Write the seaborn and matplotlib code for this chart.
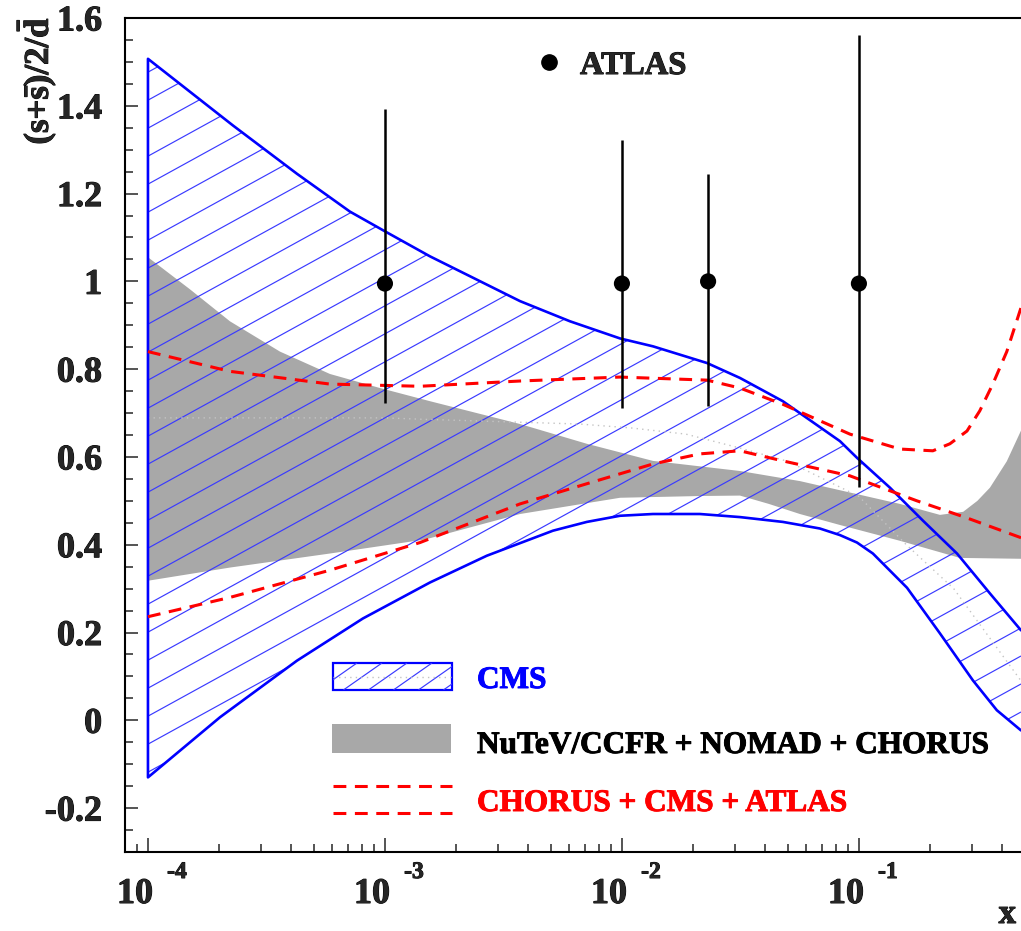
import numpy as np
import pandas as pd
import matplotlib
matplotlib.use("Agg")
import matplotlib.pyplot as plt
import matplotlib.transforms as mtransforms
import matplotlib.patheffects as pe
from matplotlib.patches import Polygon, Rectangle
from matplotlib.collections import LineCollection
from matplotlib.lines import Line2D
from matplotlib.ticker import MultipleLocator, LogLocator, NullFormatter
import seaborn as sns

sns.set_style("ticks")
plt.rcParams["font.family"] = ["Liberation Serif", "DejaVu Serif"]
plt.rcParams["font.weight"] = "bold"
plt.rcParams["mathtext.fontset"] = "custom"
plt.rcParams["mathtext.rm"] = "Liberation Serif:bold"
plt.rcParams["mathtext.it"] = "Liberation Serif:bold"
plt.rcParams["mathtext.bf"] = "Liberation Serif:bold"

# ---------------- data (x given as log10 x) ----------------
cms_upper_logx = [-4.000, -3.641, -3.371, -3.148, -3.000, -2.810, -2.430, -2.219,
                  -2.008, -1.869, -1.641, -1.502, -1.321, -1.080, -1.008, -0.869,
                  -0.730, -0.586, -0.447, -0.316]
cms_upper = [1.507, 1.355, 1.245, 1.159, 1.114, 1.057, 0.955, 0.909,
             0.870, 0.852, 0.814, 0.780, 0.727, 0.636, 0.598, 0.530,
             0.455, 0.380, 0.289, 0.205]

cms_lower_logx = [-4.000, -3.696, -3.371, -3.093, -2.810, -2.570, -2.291, -2.148,
                  -2.008, -1.869, -1.671, -1.502, -1.321, -1.165, -1.080, -1.008,
                  -0.941, -0.797, -0.658, -0.519, -0.418, -0.316]
cms_lower = [-0.130, 0.007, 0.136, 0.232, 0.314, 0.375, 0.432, 0.452,
             0.466, 0.470, 0.470, 0.463, 0.452, 0.437, 0.422, 0.405,
             0.380, 0.302, 0.198, 0.091, 0.023, -0.023]

cms_central_logx = [-4.0, -3.0, -2.85, -2.18, -1.96, -1.73, -1.5, -1.3, -1.0, -0.8, -0.6, -0.316]
cms_central = [0.689, 0.689, 0.686, 0.675, 0.666, 0.652, 0.62, 0.59, 0.51, 0.40, 0.30, 0.09]

nutev_upper_logx = [-4.000, -3.823, -3.654, -3.443, -3.232, -3.021, -2.810, -2.430,
                    -2.148, -1.869, -1.502, -1.249, -0.827, -0.658, -0.560, -0.500,
                    -0.447, -0.376, -0.316]
nutev_upper = [1.055, 0.982, 0.909, 0.840, 0.789, 0.757, 0.727, 0.675,
               0.630, 0.591, 0.568, 0.545, 0.493, 0.468, 0.475, 0.500,
               0.530, 0.590, 0.660]

nutev_lower_logx = [-4.000, -3.654, -3.232, -2.830, -2.430, -2.008, -1.671, -1.502,
                    -1.380, -1.249, -1.080, -0.827, -0.574, -0.316]
nutev_lower = [0.318, 0.348, 0.380, 0.412, 0.470, 0.507, 0.511, 0.512,
               0.493, 0.470, 0.445, 0.409, 0.370, 0.368]

fit_upper_logx = [-4.000, -3.654, -3.232, -2.852, -2.430, -2.008, -1.641, -1.502,
                  -1.321, -1.038, -0.827, -0.688, -0.616, -0.544, -0.490, -0.435,
                  -0.376, -0.316]
fit_upper = [0.840, 0.795, 0.766, 0.761, 0.773, 0.782, 0.775, 0.757,
             0.720, 0.652, 0.618, 0.614, 0.630, 0.659, 0.705, 0.766,
             0.840, 0.940]

fit_lower_logx = [-4.000, -3.654, -3.232, -2.852, -2.430, -2.148, -1.869, -1.671,
                  -1.502, -1.321, -1.038, -0.755, -0.544, -0.316]
fit_lower = [0.236, 0.280, 0.342, 0.405, 0.493, 0.539, 0.584, 0.607,
             0.614, 0.591, 0.557, 0.500, 0.461, 0.416]

atlas_x = [1e-3, 1e-2, 0.0231, 0.1]
atlas_y = [0.995, 0.995, 1.000, 0.995]
atlas_low = [0.723, 0.711, 0.716, 0.532]
atlas_high = [1.393, 1.323, 1.245, 1.561]

xtick_values = [1e-4, 1e-3, 1e-2, 1e-1]
xtick_exponents = ["-4", "-3", "-2", "-1"]
ytick_values = [-0.2, 0.0, 0.2, 0.4, 0.6, 0.8, 1.0, 1.2, 1.4, 1.6]
ytick_labels = ["-0.2", "0", "0.2", "0.4", "0.6", "0.8", "1", "1.2", "1.4", "1.6"]

legend_labels = ["CMS", "NuTeV/CCFR + NOMAD + CHORUS", "CHORUS + CMS + ATLAS"]

# ---------------- figure ----------------
W, H = 1021, 931
fig = plt.figure(figsize=(W / 100, H / 100), dpi=100)
fig.patch.set_facecolor("white")
ax_l, ax_r, ax_t, ax_b = 125, 1021, 18, 852
ax = fig.add_axes([ax_l / W, 1 - ax_b / H, (ax_r - ax_l) / W, (ax_b - ax_t) / H])
ax.set_facecolor("white")
ax.set_xscale("log")
ax.set_xlim(8e-5, 10 ** -0.316)
ax.set_ylim(-0.3, 1.6)

BLUE = "#0000ff"
HATCH = "#3a3aff"
GREY = "#a8a8a8"
RED = "#ff0000"


def heavy(color):
    return [pe.withStroke(linewidth=0.7, foreground=color)]


def tx(logx):
    return np.power(10.0, np.asarray(logx))


# NuTeV/CCFR + NOMAD + CHORUS band
gx = np.r_[tx(nutev_upper_logx), tx(nutev_lower_logx)[::-1]]
gy = np.r_[nutev_upper, nutev_lower[::-1]]
ax.fill(gx, gy, color=GREY, lw=0, zorder=1)

# CMS band: hatched region clipped to the band outline
cx = np.r_[tx(cms_upper_logx), tx(cms_lower_logx)[::-1]]
cy = np.r_[cms_upper, cms_lower[::-1]]
cms_poly = Polygon(np.column_stack([cx, cy]), closed=True, fill=False,
                   edgecolor="none", transform=ax.transData)
ax.add_patch(cms_poly)

axw, axh = ax_r - ax_l, ax_b - ax_t
slope = 0.55 * axw / axh
step = 28.0 / axh
segs = [[(0, c), (1, c + slope)] for c in np.arange(-slope - step, 1 + step, step)]
hatch = LineCollection(segs, colors=HATCH, linewidths=0.85, transform=ax.transAxes, zorder=2)
ax.add_collection(hatch)
hatch.set_clip_path(cms_poly)

df_central = pd.DataFrame({"x": tx(cms_central_logx), "y": cms_central})
sns.lineplot(data=df_central, x="x", y="y", ax=ax, color="#c4c4c4", lw=1.0,
             linestyle=(0, (1, 3)), sort=False, estimator=None, zorder=2.5)

# CMS outline (lower edge back to the left, up the left side, along the upper edge)
df_cms = pd.DataFrame({
    "x": np.r_[tx(cms_lower_logx)[::-1], tx(cms_upper_logx)],
    "y": np.r_[cms_lower[::-1], cms_upper],
})
sns.lineplot(data=df_cms, x="x", y="y", ax=ax, color=BLUE, lw=1.9,
             sort=False, estimator=None, zorder=3)

# CHORUS + CMS + ATLAS band edges
dash = (0, (4.2, 2.8))
for lx, ly in [(fit_upper_logx, fit_upper), (fit_lower_logx, fit_lower)]:
    d = pd.DataFrame({"x": tx(lx), "y": ly})
    sns.lineplot(data=d, x="x", y="y", ax=ax, color=RED, lw=2.2, linestyle=dash,
                 sort=False, estimator=None, zorder=4)

# ATLAS points
ya = np.array(atlas_y)
yerr = np.vstack([ya - np.array(atlas_low), np.array(atlas_high) - ya])
ax.errorbar(atlas_x, atlas_y, yerr=yerr, fmt="none", ecolor="black", elinewidth=1.8,
            capsize=0, zorder=5)
sns.scatterplot(x=atlas_x, y=atlas_y, ax=ax, color="black", s=135, edgecolor="none",
                zorder=6)

# ---------------- axes styling ----------------
for side in ["left", "bottom", "top"]:
    ax.spines[side].set_linewidth(1.5)
    ax.spines[side].set_color("black")
ax.spines["right"].set_visible(False)

ax.set_yticks(ytick_values)
ax.set_yticklabels(ytick_labels)
ax.yaxis.set_minor_locator(MultipleLocator(0.05))
ax.set_xticks(xtick_values)
ax.set_xticklabels([""] * len(xtick_values))
ax.xaxis.set_minor_locator(LogLocator(base=10, subs=np.arange(2, 10), numticks=20))
ax.xaxis.set_minor_formatter(NullFormatter())

ax.tick_params(axis="y", which="major", direction="in", length=9.4, width=1.1,
               labelsize=26, pad=16.5, left=True, right=False)
ax.tick_params(axis="y", which="minor", direction="in", length=5.8, width=1.1,
               left=True, right=False)
ax.tick_params(axis="x", which="major", direction="in", length=10, width=1.1,
               bottom=True, top=False)
ax.tick_params(axis="x", which="minor", direction="in", length=5.8, width=1.1,
               bottom=True, top=False)
for lab in ax.get_yticklabels():
    lab.set_fontweight("bold")
    lab.set_path_effects(heavy("black"))
ax.set_xlabel("")
ax.set_ylabel("")

# x tick labels as "10" with a raised exponent
blend = mtransforms.blended_transform_factory(ax.transData, ax.transAxes)
for xv, ex in zip(xtick_values, xtick_exponents):
    t1 = mtransforms.offset_copy(blend, fig=fig, x=-13, y=-51, units="dots")
    ax.text(xv, 0, "10", transform=t1, ha="center", va="baseline",
            fontsize=26, fontweight="bold", clip_on=False, path_effects=heavy("black"))
    t2 = mtransforms.offset_copy(blend, fig=fig, x=29, y=-26, units="dots")
    ax.text(xv, 0, ex, transform=t2, ha="center", va="baseline",
            fontsize=17, fontweight="bold", clip_on=False, path_effects=heavy("black"))

fig.text(1016 / W, 1 - 923 / H, "x", ha="right", va="baseline", fontsize=25,
         fontweight="bold", path_effects=heavy("black"))
fig.text(36 / W, 1 - 17 / H, r"$\mathbf{(s{+}\bar{s})/2/\bar{d}}$", rotation=90,
         ha="center", va="top", fontsize=25, path_effects=heavy("black"))

# ---------------- legends ----------------
def axc(px, py):
    return (px - ax_l) / axw, (ax_b - py) / axh

# ATLAS marker legend
mx, my = axc(549, 62)
ax.plot([mx], [my], "o", color="black", ms=11, transform=ax.transAxes, clip_on=False)
tx_, ty_ = axc(580, 62)
ax.text(tx_, ty_, "ATLAS", transform=ax.transAxes, ha="left", va="center_baseline",
        fontsize=23.5, fontweight="bold", path_effects=heavy("black"))

# CMS entry
x0, y0 = axc(333, 690)
x1, y1 = axc(452, 663)
box = Rectangle((x0, y0), x1 - x0, y1 - y0, transform=ax.transAxes, fill=False,
                edgecolor=BLUE, lw=1.6, zorder=7)
ax.add_patch(box)
bslope = 0.7 * axw / axh
bstep = 25.0 / axw
lsegs = []
for xs in np.arange(x0 - 0.1, x1 + 0.05, bstep):
    lsegs.append([(xs, y0), (xs + (y1 - y0) / bslope, y1)])
lhatch = LineCollection(lsegs, colors=HATCH, linewidths=0.85, transform=ax.transAxes,
                        zorder=7)
ax.add_collection(lhatch)
lhatch.set_clip_path(box)
ax.add_line(Line2D([x0, x1], [(y0 + y1) / 2] * 2, transform=ax.transAxes, color="#c4c4c4",
                   lw=1.0, linestyle=(0, (1, 3)), zorder=7))
lx_text, _ = axc(477, 0)
ax.text(lx_text, axc(0, 677)[1], legend_labels[0], transform=ax.transAxes, ha="left",
        va="center_baseline", fontsize=22.5, fontweight="bold", color=BLUE,
        path_effects=heavy(BLUE))

# NuTeV entry
g0x, g0y = axc(332, 753)
g1x, g1y = axc(451, 724)
ax.add_patch(Rectangle((g0x, g0y), g1x - g0x, g1y - g0y, transform=ax.transAxes,
                       facecolor=GREY, edgecolor="none", zorder=7))
ax.text(lx_text, axc(0, 742)[1], legend_labels[1], transform=ax.transAxes, ha="left",
        va="center_baseline", fontsize=22.5, fontweight="bold", color="black",
        path_effects=heavy("black"))

# CHORUS + CMS + ATLAS entry
for py in (786, 813):
    a, yy = axc(333, py)
    b, _ = axc(452, py)
    ax.add_line(Line2D([a, b], [yy, yy], transform=ax.transAxes, color=RED, lw=2.2,
                       linestyle=dash, zorder=7))
ax.text(lx_text, axc(0, 800)[1], legend_labels[2], transform=ax.transAxes, ha="left",
        va="center_baseline", fontsize=22.5, fontweight="bold", color=RED,
        path_effects=heavy(RED))

fig.savefig("out.png", dpi=100, facecolor="white")
